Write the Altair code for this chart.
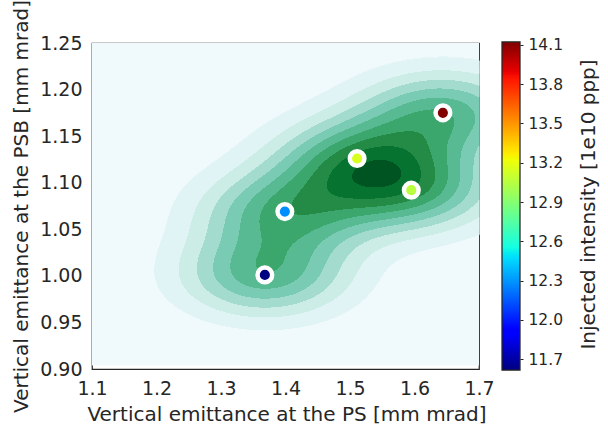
import numpy as np
import pandas as pd
import altair as alt

# ---------------- data ----------------
ps_emit = [1.368, 1.399, 1.511, 1.595, 1.644]      # x: vertical emittance at the PS
psb_emit = [1.001, 1.069, 1.126, 1.092, 1.175]     # y: vertical emittance at the PSB
intensity = [11.62, 12.28, 13.15, 13.06, 14.12]    # injected intensity [1e10 ppp]

x_ticks = [1.1, 1.2, 1.3, 1.4, 1.5, 1.6, 1.7]
y_ticks = [0.90, 0.95, 1.00, 1.05, 1.10, 1.15, 1.20, 1.25]
cbar_ticks = [11.7, 12.0, 12.3, 12.6, 12.9, 13.2, 13.5, 13.8, 14.1]

X_DOM = [1.1, 1.7]
Y_DOM = [0.90, 1.25]
CB_DOM = [11.624, 14.115]   # colorbar axis domain
CB_EXT = [11.616, 14.123]   # colorbar extent = colour range

W, H = 387, 326
TXT = "#262626"
FONT = "DejaVu Sans"

# ---------------- product-kernel gaussian KDE (Scott's rule per axis) ----------------
px = np.array(ps_emit)
py = np.array(psb_emit)
n = len(px)


def scott(v):
    q75, q25 = np.percentile(v, [75, 25])
    a = min(np.std(v, ddof=1), (q75 - q25) / 1.349)
    return 1.059 * a * n ** (-0.2)


bwx = scott(px)
bwy = scott(py)
CUT = 3
# extent of the KDE support grid (clipped to the axes)
gx0 = max(X_DOM[0], px.min() - CUT * bwx)
gx1 = min(X_DOM[1], px.max() + CUT * bwx)
gy0 = max(Y_DOM[0], py.min() - CUT * bwy)
gy1 = min(Y_DOM[1], py.max() + CUT * bwy)

nx, ny = W, H
dxp = (X_DOM[1] - X_DOM[0]) / nx
dyp = (Y_DOM[1] - Y_DOM[0]) / ny
gx = X_DOM[0] + (np.arange(nx) + 0.5) * dxp
gy = Y_DOM[0] + (np.arange(ny) + 0.5) * dyp
XX, YY = np.meshgrid(gx, gy)
z = np.zeros_like(XX)
for i in range(n):
    z += np.exp(-0.5 * (((XX - px[i]) / bwx) ** 2 + ((YY - py[i]) / bwy) ** 2))
z /= n * 2 * np.pi * bwx * bwy

# matplotlib-like MaxNLocator(11) levels
zmax = float(z.max())
raw = zmax / 11
scale = 10 ** np.floor(np.log10(raw))
step = None
for s in [1, 2, 2.5, 5, 10]:
    if s * scale >= raw * (1 - 1e-9):
        step = s * scale
        break
levels = np.arange(0, np.ceil(zmax / step) + 1) * step
nb = len(levels) - 1
band = np.clip(np.searchsorted(levels, z, side="right") - 1, 0, nb - 1)

bugn = ["#f7fcfd", "#e5f5f9", "#ccece6", "#99d8c9", "#66c2a4",
        "#41ae76", "#238b45", "#006d2c", "#00441b"]
anch = np.array([[int(c[i:i + 2], 16) for i in (1, 3, 5)] for c in bugn], float)
at = np.linspace(0, 1, len(bugn))


def bugn_at(t):
    r = [np.interp(t, at, anch[:, k]) for k in range(3)]
    return "#%02x%02x%02x" % tuple(int(round(v)) for v in r)


# layer midpoints normalised between first and last level (matplotlib contourf)
band_colors = [bugn_at((i + 0.5) / nb) for i in range(nb)]

# run-length encode each pixel row into rectangles
recs = []
for j in range(ny):
    if gy[j] < gy0:
        continue
    row = band[j]
    start = 0
    for i in range(1, nx + 1):
        if i == nx or row[i] != row[start]:
            b = int(row[start])
            if b > 0:
                recs.append({
                    "x0": X_DOM[0] + start * dxp,
                    "x1": X_DOM[0] + i * dxp + 0.6 * dxp,
                    "y0": max(gy0, Y_DOM[0] + j * dyp),
                    "y1": Y_DOM[0] + (j + 1.6) * dyp,
                    "col": band_colors[b],
                })
            start = i
contour_df = pd.DataFrame(recs)
bg_df = pd.DataFrame({"x0": [gx0], "x1": [gx1], "y0": [gy0], "y1": [gy1],
                      "col": [band_colors[0]]})

pts_df = pd.DataFrame({"ps": ps_emit, "psb": psb_emit, "intensity": intensity})

# jet colour map stops
jr = [(0, 0), (0.35, 0), (0.66, 1), (0.89, 1), (1, 0.5)]
jg = [(0, 0), (0.125, 0), (0.375, 1), (0.64, 1), (0.91, 0), (1, 0)]
jb = [(0, 0.5), (0.11, 1), (0.34, 1), (0.65, 0), (1, 0)]
stops = sorted(set([p[0] for p in jr + jg + jb]))


def ch(anchors, t):
    return np.interp(t, [a[0] for a in anchors], [a[1] for a in anchors])


jet_dom = [CB_EXT[0] + t * (CB_EXT[1] - CB_EXT[0]) for t in stops]
jet_rng = ["#%02x%02x%02x" % (int(round(255 * ch(jr, t))), int(round(255 * ch(jg, t))),
                              int(round(255 * ch(jb, t)))) for t in stops]
jet = alt.Scale(domain=jet_dom, range=jet_rng, interpolate="rgb")

nstripe = 220
edges = np.linspace(CB_EXT[0], CB_EXT[1], nstripe + 1)
cb_df = pd.DataFrame({
    "lo": edges[:-1],
    "hi": edges[:-1] + 1.7 * (edges[1] - edges[0]),
    "mid": (edges[:-1] + edges[1:]) / 2,
})
cb_df.loc[cb_df.index[-1], "hi"] = CB_EXT[1]
frame_df = pd.DataFrame({"lo": [CB_EXT[0]], "hi": [CB_EXT[1]]})

# ---------------- chart ----------------
xscale = alt.Scale(domain=X_DOM, nice=False, zero=False)
yscale = alt.Scale(domain=Y_DOM, nice=False, zero=False)

xaxis = alt.Axis(values=x_ticks, format=".1f", title="Vertical emittance at the PS [mm mrad]",
                 grid=False, domain=False, ticks=False, labelFlush=False, labelOverlap=False,
                 labelPadding=10, labelFontSize=19, titleFontSize=20,
                 titleX=194.5, titleY=51, titleAlign="center", titleBaseline="alphabetic")
yaxis = alt.Axis(values=y_ticks, format=".2f", title="Vertical emittance at the PSB [mm mrad]",
                 grid=False, domain=False, ticks=False, labelFlush=False, labelOverlap=False,
                 labelPadding=10, labelFontSize=19, titleFontSize=20,
                 titleAngle=270, titleX=-71, titleY=163, titleAlign="center",
                 titleBaseline="middle")

background = alt.Chart(bg_df).mark_rect(strokeWidth=0).encode(
    x=alt.X("x0:Q", scale=xscale, axis=xaxis),
    x2="x1:Q",
    y=alt.Y("y0:Q", scale=yscale, axis=yaxis),
    y2="y1:Q",
    color=alt.Color("col:N", scale=None),
)

contours = alt.Chart(contour_df).mark_rect(strokeWidth=0).encode(
    x=alt.X("x0:Q", scale=xscale),
    x2="x1:Q",
    y=alt.Y("y0:Q", scale=yscale),
    y2="y1:Q",
    color=alt.Color("col:N", scale=None),
)

points = alt.Chart(pts_df).mark_point(filled=True, size=214, stroke="white",
                                      strokeWidth=4.5, opacity=1, strokeOpacity=1).encode(
    x=alt.X("ps:Q", scale=xscale),
    y=alt.Y("psb:Q", scale=yscale),
    fill=alt.Fill("intensity:Q", scale=jet, legend=None),
)

main = alt.layer(background, contours, points)

cbaxis = alt.Axis(orient="right", offset=41, values=cbar_ticks, format=".1f",
                  title="Injected intensity [1e10 ppp]", grid=False, domain=False,
                  ticks=True, tickSize=3, tickColor=TXT, tickWidth=1,
                  labelPadding=5, labelFontSize=15.5, labelFlush=False, labelOverlap=False,
                  titleFontSize=20, titleAngle=270, titleX=68, titleY=161,
                  titleAlign="center", titleBaseline="middle")
cbscale = alt.Scale(domain=CB_DOM, nice=False, zero=False)

stripes = alt.Chart(cb_df).mark_rect(strokeWidth=0).encode(
    x=alt.value(410), x2=alt.value(428),
    y=alt.Y("lo:Q", scale=cbscale, axis=cbaxis),
    y2="hi:Q",
    fill=alt.Fill("mid:Q", scale=jet, legend=None),
)
cframe = alt.Chart(frame_df).mark_rect(filled=False, stroke=TXT, strokeWidth=1.25).encode(
    x=alt.value(410), x2=alt.value(428),
    y=alt.Y("lo:Q", scale=cbscale),
    y2="hi:Q",
)
cbar = alt.layer(stripes, cframe)

chart = alt.layer(main, cbar).resolve_scale(y="independent").properties(
    width=W, height=H,
    autosize=alt.AutoSizeParams(type="none"),
    padding={"left": 92, "top": 43, "right": 608 - 92 - W, "bottom": 425 - 43 - H},
    background="white",
).configure_view(
    fill="white", stroke=TXT, strokeWidth=1.25,
).configure_axis(
    labelFont=FONT, titleFont=FONT, labelColor=TXT, titleColor=TXT,
    titleFontWeight="normal",
)

chart.save("out.html", embed_options={"renderer": "svg", "actions": False})
